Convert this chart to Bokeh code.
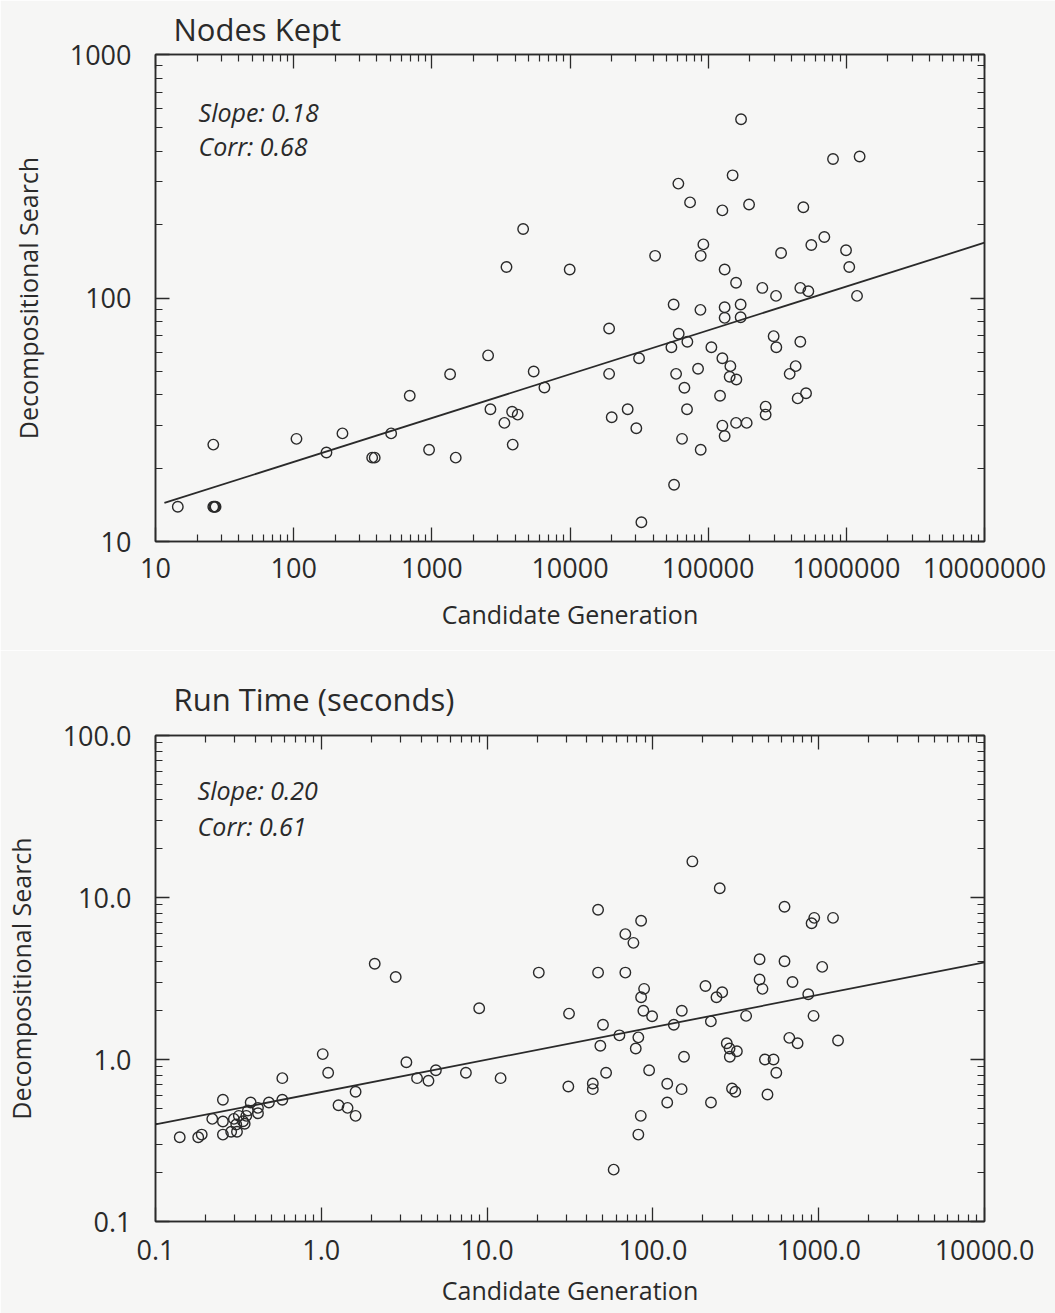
import math
from bokeh.plotting import figure
from bokeh.layouts import column
from bokeh.models import Label, LogAxis, FixedTicker, CustomJSTickFormatter
from bokeh.embed import file_html
from bokeh.resources import INLINE

# ---------------- data: Nodes Kept ----------------
nodes_candidate = [
    4580, 3470, 9950, 173000, 801000, 1248000, 150300, 60850, 73960, 126700,
    197700, 488500, 693000, 558000, 995000, 1050000, 92300, 88300, 41300, 337000,
    131600, 159200, 246600, 309900, 464500, 531000, 1195000, 56250, 87900, 131600,
    171800, 131600, 171800, 19190, 61200, 70700, 54200, 105500, 297800, 311400,
    464500, 31600, 126700, 144800, 19190, 58600, 84500, 143100, 160000, 429700,
    389000, 67300, 121900, 511000, 444500, 26150, 20040, 70300, 260600, 260600,
    30200, 126700, 159200, 190000, 64700, 131600, 88300, 56650, 32860, 2554,
    1356, 5460, 6530, 692, 2655, 3811, 4183, 3352, 104.8, 225.5,
    507.6, 26.2, 3849, 172.7, 955, 370, 386, 1489, 14.5, 26.2,
    27.2, 26.7,
]
nodes_decomp = [
    192, 134, 131, 542, 372, 381, 319, 295, 247, 229,
    242, 236, 178, 165, 157, 134, 166, 149, 149, 153,
    131, 115.5, 110, 102, 110, 106.6, 102, 94, 89.4, 91.6,
    94, 82.9, 83.4, 74.9, 71.3, 66.1, 62.8, 62.8, 69.7, 62.8,
    66.1, 56.6, 56.6, 52.5, 48.8, 48.8, 51.2, 47.5, 46.3, 52.5,
    48.8, 42.8, 39.7, 40.6, 38.7, 34.9, 32.4, 34.9, 35.8, 33.2,
    29.2, 29.9, 30.7, 30.7, 26.4, 27.1, 23.8, 17.1, 12.0, 58.1,
    48.6, 49.9, 42.9, 39.7, 34.9, 34.1, 33.2, 30.7, 26.4, 27.8,
    27.8, 25.0, 25.0, 23.2, 23.8, 22.1, 22.1, 22.1, 13.9, 13.9,
    13.9, 13.9,
]
nodes_slope = 0.18
nodes_corr = 0.68
nodes_log_intercept = 0.967
nodes_fit_x = [11.6, 1e7]

# ---------------- data: Run Time ----------------
time_candidate = [
    2.10, 2.81, 20.5, 173, 253, 46.7, 84.9, 68.2, 76.3, 622,
    940, 906, 1220, 46.7, 68.2, 440, 622, 1050, 440, 695,
    88.5, 84.9, 207.5, 241.8, 261.8, 458, 865, 31.2, 50.0, 87.6,
    98.9, 149.4, 133.7, 223.7, 365, 931, 62.8, 48.2, 81.7, 78.8,
    279, 290, 321, 291, 665, 746, 1308, 154, 474, 534,
    555, 52.2, 94.9, 30.9, 43.4, 43.4, 122, 149, 300, 314,
    491, 122, 224, 84.5, 81.7, 58.0, 8.96, 1.02, 1.10, 0.582,
    0.582, 3.26, 3.78, 4.43, 4.91, 7.45, 12.06, 1.61, 1.27, 1.44,
    1.61, 0.255, 0.375, 0.483, 0.415, 0.415, 0.361, 0.220, 0.255, 0.297,
    0.318, 0.353, 0.337, 0.345, 0.307, 0.255, 0.286, 0.310, 0.140, 0.181,
    0.190,
]
time_decomp = [
    3.90, 3.23, 3.44, 16.7, 11.4, 8.40, 7.18, 5.94, 5.25, 8.77,
    7.49, 6.94, 7.49, 3.44, 3.44, 4.16, 4.04, 3.73, 3.12, 3.01,
    2.73, 2.42, 2.84, 2.42, 2.60, 2.73, 2.53, 1.92, 1.64, 2.00,
    1.85, 2.00, 1.64, 1.72, 1.86, 1.86, 1.41, 1.215, 1.37, 1.17,
    1.26, 1.17, 1.125, 1.04, 1.36, 1.26, 1.31, 1.04, 1.0, 1.0,
    0.828, 0.828, 0.859, 0.681, 0.711, 0.656, 0.708, 0.656, 0.662, 0.632,
    0.608, 0.543, 0.543, 0.449, 0.344, 0.209, 2.07, 1.08, 0.828, 0.767,
    0.564, 0.962, 0.767, 0.739, 0.859, 0.828, 0.767, 0.632, 0.522, 0.503,
    0.449, 0.564, 0.543, 0.543, 0.503, 0.466, 0.484, 0.430, 0.414, 0.430,
    0.449, 0.449, 0.416, 0.401, 0.397, 0.344, 0.358, 0.358, 0.331, 0.331,
    0.344,
]
time_slope = 0.20
time_corr = 0.61
time_log_intercept = -0.201
time_fit_x = [0.1, 1e4]

# ---------------- tick labels ----------------
nodes_x_ticks = [10, 100, 1000, 10000, 100000, 1000000, 10000000]
nodes_x_labels = ["10", "100", "1000", "10000", "100000", "1000000", "10000000"]
nodes_y_ticks = [10, 100, 1000]
nodes_y_labels = ["10", "100", "1000"]
time_x_ticks = [0.1, 1, 10, 100, 1000, 10000]
time_x_labels = ["0.1", "1.0", "10.0", "100.0", "1000.0", "10000.0"]
time_y_ticks = [0.1, 1, 10, 100]
time_y_labels = ["0.1", "1.0", "10.0", "100.0"]

INK = "#2a2a2a"
BG = "#f6f6f5"
FONT = "Open Sans"


def minor_for(ticks):
    out = []
    for t in ticks[:-1]:
        out += [t * m for m in range(2, 10)]
    return out


def fmt(tvals, tlabels):
    return CustomJSTickFormatter(
        args=dict(tvals=list(tvals), tlabels=list(tlabels)),
        code="""
        for (let i = 0; i < tvals.length; i++) {
            if (Math.abs(Math.log10(tvals[i]) - Math.log10(tick)) < 1e-6) return tlabels[i];
        }
        return '';
        """)


def make_panel(title, xs, ys, xt, xl, yt, yl, slope, corr, icpt, fit_x,
               xr, yr, height, btop, bbottom, title_standoff, lab_x, lab_y1, lab_y2,
               xtick_standoff, xlabel_standoff):
    p = figure(width=1055, height=height, x_axis_type="log", y_axis_type="log",
               x_range=xr, y_range=yr, output_backend="svg", toolbar_location=None,
               min_border_left=155, min_border_right=71, min_border_top=btop,
               min_border_bottom=bbottom, background_fill_color=BG,
               border_fill_color=BG)
    p.grid.visible = False
    p.outline_line_color = INK
    p.outline_line_width = 1.5

    p.title.text = title
    p.title.text_font = FONT
    p.title.text_font_size = "31px"
    p.title.text_font_style = "normal"
    p.title.text_color = INK
    p.title.offset = 18
    p.title.standoff = title_standoff

    xtick = FixedTicker(ticks=xt, minor_ticks=minor_for(xt))
    ytick = FixedTicker(ticks=yt, minor_ticks=minor_for(yt))

    for ax, tk, tl in ((p.xaxis[0], xtick, xl), (p.yaxis[0], ytick, yl)):
        ax.ticker = tk
        ax.formatter = fmt(tk.ticks, tl)
        ax.major_tick_in = 14
        ax.major_tick_out = 0
        ax.minor_tick_in = 7
        ax.minor_tick_out = 0
        ax.axis_line_color = INK
        ax.axis_line_width = 1.5
        ax.major_tick_line_color = INK
        ax.minor_tick_line_color = INK
        ax.major_tick_line_width = 1.3
        ax.minor_tick_line_width = 1.2
        ax.major_label_text_font = FONT
        ax.major_label_text_font_size = "27px"
        ax.major_label_text_color = INK
        ax.axis_label_text_font = FONT
        ax.axis_label_text_font_size = "25px"
        ax.axis_label_text_font_style = "normal"
        ax.axis_label_text_color = INK

    p.xaxis[0].axis_label = "Candidate Generation"
    p.yaxis[0].axis_label = "Decompositional Search"
    p.xaxis[0].major_label_standoff = xtick_standoff
    p.xaxis[0].axis_label_standoff = xlabel_standoff
    p.yaxis[0].major_label_standoff = 24
    p.yaxis[0].axis_label_standoff = 22

    # mirrored inner ticks on top and right edges
    for side, tk in (("above", xtick), ("right", ytick)):
        ax = LogAxis(ticker=tk, formatter=fmt(tk.ticks, [""] * len(tk.ticks)),
                     major_tick_in=14, major_tick_out=0, minor_tick_in=7,
                     minor_tick_out=0, axis_line_color=INK, axis_line_width=1.5,
                     major_tick_line_color=INK, minor_tick_line_color=INK,
                     major_tick_line_width=1.3, minor_tick_line_width=1.2,
                     major_label_text_font_size="0px", major_label_standoff=0)
        p.add_layout(ax, side)

    # regression line from slope and intercept (log-log)
    fit_y = [10 ** (icpt + slope * math.log10(x)) for x in fit_x]
    p.line(fit_x, fit_y, line_color=INK, line_width=1.8)

    p.scatter(xs, ys, marker="circle", size=10.5, fill_color=None,
              line_color=INK, line_width=1.4)

    for txt, yy in ((f"Slope: {slope:.2f}", lab_y1), (f"Corr: {corr:.2f}", lab_y2)):
        p.add_layout(Label(x=lab_x, y=yy, text=txt, text_font=FONT,
                           text_font_size="25px", text_font_style="italic",
                           text_color=INK, text_baseline="middle",
                           text_align="left"))
    return p


p1 = make_panel("Nodes Kept", nodes_candidate, nodes_decomp,
                nodes_x_ticks, nodes_x_labels, nodes_y_ticks, nodes_y_labels,
                nodes_slope, nodes_corr, nodes_log_intercept, nodes_fit_x,
                (10, 1e7), (10, 1000), 650, 54, 109, 9, 20.5, 583, 419, 16, 16)

p2 = make_panel("Run Time (seconds)", time_candidate, time_decomp,
                time_x_ticks, time_x_labels, time_y_ticks, time_y_labels,
                time_slope, time_corr, time_log_intercept, time_fit_x,
                (0.1, 1e4), (0.1, 100), 663, 85, 92, 31, 0.1795, 45.8, 27.8, 18, 10)

layout = column(p1, p2, spacing=0)
open("out.html", "w").write(file_html(layout, INLINE))
